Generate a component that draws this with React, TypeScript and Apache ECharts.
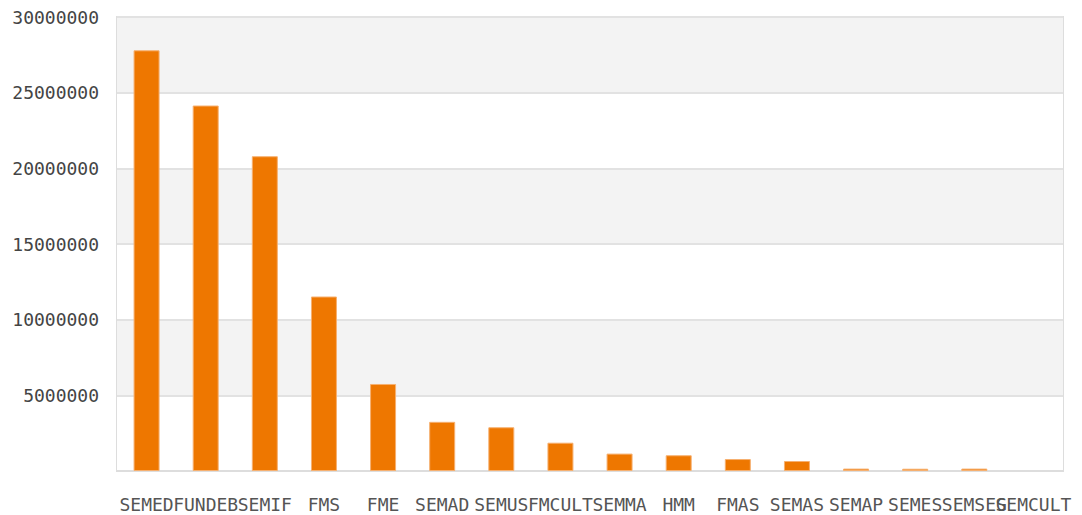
import React, { useEffect, useRef } from "react";
import * as echarts from "echarts";

const categories = [
  "SEMED", "FUNDEB", "SEMIF", "FMS", "FME", "SEMAD", "SEMUS", "FMCULT",
  "SEMMA", "HMM", "FMAS", "SEMAS", "SEMAP", "SEMES", "SEMSEG", "SEMCULT",
];
const values = [
  27800000, 24150000, 20800000, 11530000, 5750000, 3250000, 2890000, 1870000,
  1150000, 1040000, 790000, 660000, 160000, 150000, 160000, 0,
];
const yTicks = { min: 0, max: 30000000, interval: 5000000 };

export default function App() {
  const ref = useRef<HTMLDivElement>(null);
  useEffect(() => {
    if (!ref.current) return;
    const chart = echarts.init(ref.current, null, { renderer: "svg" });
    chart.setOption({
      animation: false,
      backgroundColor: "#ffffff",
      grid: {
        left: 117,
        right: 19,
        top: 17,
        bottom: 44,
        containLabel: false,
        outerBoundsMode: "none",
        show: true,
        borderColor: "#dddddd",
        borderWidth: 2,
        backgroundColor: "transparent",
      },
      xAxis: {
        type: "category",
        data: categories,
        axisLine: { show: true, lineStyle: { color: "#dddddd", width: 2 } },
        axisTick: { show: false },
        axisLabel: {
          interval: 0,
          hideOverlap: false,
          color: "#555555",
          fontFamily: "DejaVu Sans Mono",
          fontSize: 18,
          margin: 24,
        },
      },
      yAxis: {
        type: "value",
        min: yTicks.min,
        max: yTicks.max,
        interval: yTicks.interval,
        axisLine: { show: false },
        axisTick: { show: false },
        axisLabel: {
          color: "#444444",
          fontFamily: "DejaVu Sans Mono",
          fontSize: 18,
          margin: 18,
          showMinLabel: false,
          verticalAlign: "middle",
          formatter: (v: number) => String(v),
        },
        splitLine: { show: true, lineStyle: { color: "#e2e2e2", width: 2 } },
        splitArea: { show: true, areaStyle: { color: ["#ffffff", "#f3f3f3"] } },
      },
      series: [
        {
          type: "bar",
          data: values.map((v) =>
            v === 0 ? { value: v, itemStyle: { borderWidth: 0 } } : v
          ),
          barWidth: 26,
          itemStyle: {
            color: "#ee7700",
            borderColor: "#f6b070",
            borderWidth: 1,
          },
        },
      ],
    });
    return () => chart.dispose();
  }, []);
  return (
    <div
      ref={ref}
      style={{ position: "fixed", left: 0, top: 0, width: 1082, height: 515 }}
    />
  );
}
